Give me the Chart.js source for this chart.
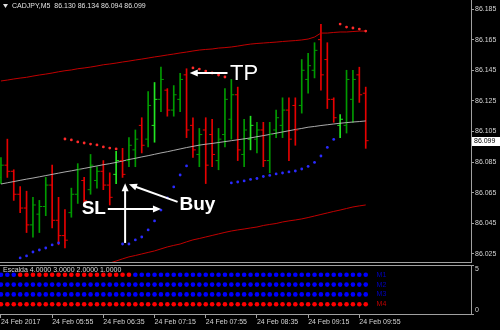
<!DOCTYPE html>
<html>
<head>
<meta charset="utf-8">
<script src="https://cdn.jsdelivr.net/npm/chart.js@4.4.0/dist/chart.umd.min.js"></script>
<style>
  html, body { margin: 0; padding: 0; background: #000; }
  #wrap { width: 500px; height: 330px; position: relative; overflow: hidden; background: #000; }
  #mainBox { position: absolute; left: 0; top: 0; width: 500px; height: 263px; }
  #indiBox { position: absolute; left: 0; top: 263px; width: 500px; height: 67px; }
</style>
</head>
<body>
<div id="wrap">
  <div id="mainBox"><canvas id="mainChart"></canvas></div>
  <div id="indiBox"><canvas id="indiChart"></canvas></div>
</div>
<script>
// CADJPY M5 bars, index 0 = 05:15
const symbol = 'CADJPY,M5';

const opens = [86.075, 86.083, 86.079, 86.064, 86.055, 86.044, 86.051, 86.056, 86.070, 86.047,
  86.037, 86.052, 86.064, 86.073, 86.067, 86.073, 86.079, 86.070, 86.077, 86.086,
  86.086, 86.093, 86.109, 86.100, 86.109, 86.126, 86.132, 86.119, 86.126, 86.142,
  86.109, 86.090, 86.106, 86.103, 86.086, 86.103, 86.113, 86.129, 86.090, 86.100,
  86.100, 86.106, 86.086, 86.106, 86.109, 86.119, 86.122, 86.122, 86.139, 86.145,
  86.165, 86.152, 86.126, 86.109, 86.109, 86.126, 86.142, 86.130];
const highs = [86.088, 86.100, 86.080, 86.069, 86.066, 86.062, 86.060, 86.075, 86.083, 86.062,
  86.054, 86.068, 86.084, 86.075, 86.090, 86.082, 86.086, 86.078, 86.092, 86.094,
  86.101, 86.106, 86.114, 86.131, 86.137, 86.147, 86.133, 86.135, 86.143, 86.146,
  86.114, 86.107, 86.114, 86.113, 86.107, 86.133, 86.139, 86.134, 86.113, 86.115,
  86.111, 86.111, 86.111, 86.119, 86.127, 86.127, 86.127, 86.152, 86.156, 86.163,
  86.175, 86.163, 86.127, 86.116, 86.145, 86.145, 86.147, 86.134];
const lows = [86.071, 86.075, 86.060, 86.052, 86.039, 86.036, 86.039, 86.050, 86.042, 86.031,
  86.029, 86.049, 86.058, 86.056, 86.064, 86.068, 86.067, 86.057, 86.071, 86.075,
  86.082, 86.082, 86.091, 86.095, 86.098, 86.118, 86.115, 86.115, 86.118, 86.101,
  86.088, 86.082, 86.071, 86.082, 86.080, 86.095, 86.100, 86.086, 86.082, 86.093,
  86.091, 86.082, 86.078, 86.101, 86.101, 86.086, 86.096, 86.117, 86.130, 86.140,
  86.132, 86.120, 86.111, 86.101, 86.104, 86.111, 86.124, 86.094];
const closes = [86.083, 86.079, 86.064, 86.055, 86.044, 86.057, 86.056, 86.070, 86.047, 86.037,
  86.034, 86.064, 86.080, 86.060, 86.083, 86.079, 86.070, 86.062, 86.086, 86.077,
  86.096, 86.100, 86.096, 86.122, 86.126, 86.139, 86.119, 86.129, 86.139, 86.106,
  86.093, 86.103, 86.083, 86.090, 86.100, 86.126, 86.129, 86.093, 86.106, 86.109,
  86.106, 86.086, 86.103, 86.114, 86.119, 86.100, 86.106, 86.145, 86.148, 86.158,
  86.142, 86.126, 86.114, 86.113, 86.139, 86.139, 86.129, 86.099];

// bars painted in the bright signal colour
const highlightBars = [18, 24, 39, 53];

// envelope + moving average
const upperBand = [86.1380, 86.1386, 86.1393, 86.1399, 86.1404, 86.1412, 86.1419, 86.1425, 86.1432, 86.1440,
  86.1447, 86.1452, 86.1460, 86.1465, 86.1471, 86.1478, 86.1486, 86.1491, 86.1497, 86.1504,
  86.1510, 86.1517, 86.1523, 86.1530, 86.1537, 86.1543, 86.1550, 86.1556, 86.1563, 86.1569,
  86.1576, 86.1582, 86.1586, 86.1589, 86.1595, 86.1598, 86.1602, 86.1608, 86.1615, 86.1621,
  86.1625, 86.1628, 86.1631, 86.1634, 86.1638, 86.1641, 86.1644, 86.1648, 86.1654, 86.1667,
  86.1693, 86.1693, 86.1697, 86.1700, 86.1700, 86.1703, 86.1706, 86.1706];
const lowerBand = [null, null, null, null, null, null, null, null, null, null,
  null, null, null, null, null, null, null, 86.0191, 86.0204, 86.0218,
  86.0231, 86.0240, 86.0250, 86.0260, 86.0270, 86.0283, 86.0296, 86.0306, 86.0315, 86.0329,
  86.0342, 86.0351, 86.0361, 86.0371, 86.0381, 86.0391, 86.0400, 86.0407, 86.0413, 86.0420,
  86.0426, 86.0436, 86.0443, 86.0449, 86.0459, 86.0466, 86.0472, 86.0479, 86.0488, 86.0498,
  86.0508, 86.0518, 86.0528, 86.0537, 86.0547, 86.0557, 86.0564, 86.0570];
const maLine = [86.0707, 86.0715, 86.0723, 86.0731, 86.0739, 86.0746, 86.0754, 86.0762, 86.0770, 86.0778,
  86.0786, 86.0793, 86.0801, 86.0809, 86.0817, 86.0825, 86.0833, 86.0840, 86.0848, 86.0857,
  86.0867, 86.0875, 86.0884, 86.0892, 86.0901, 86.0910, 86.0918, 86.0927, 86.0936, 86.0945,
  86.0953, 86.0961, 86.0967, 86.0972, 86.0978, 86.0984, 86.0990, 86.0996, 86.1002, 86.1008,
  86.1016, 86.1023, 86.1031, 86.1039, 86.1047, 86.1055, 86.1063, 86.1070, 86.1078, 86.1083,
  86.1089, 86.1094, 86.1099, 86.1104, 86.1108, 86.1112, 86.1115, 86.1119];

// parabolic SAR
const sarValues = [null, null, null, 86.0224, 86.0237, 86.0263, 86.0276, 86.0289, 86.0309, 86.0322,
  86.1001, 86.0995, 86.0982, 86.0975, 86.0968, 86.0962, 86.0949, 86.0942, 86.0936, 86.0315,
  86.0315, 86.0342, 86.0361, 86.0407, 86.0466, 86.0537, 86.0616, 86.0688, 86.0766, 86.0825,
  86.1465, 86.1458, 86.1445, 86.1432, 86.1419, 86.1406, 86.0714, 86.0720, 86.0727, 86.0737,
  86.0743, 86.0756, 86.0763, 86.0773, 86.0779, 86.0786, 86.0792, 86.0805, 86.0822, 86.0848,
  86.0890, 86.0946, 86.0998, 86.1752, 86.1732, 86.1726, 86.1719, 86.1706];

const priceTicks = [86.025, 86.045, 86.065, 86.085, 86.105, 86.125, 86.145, 86.165, 86.185];
const timeTickBars = [0, 8, 16, 24, 32, 40, 48, 56];
const timeLabels = ['24 Feb 2017', '24 Feb 05:55', '24 Feb 06:35', '24 Feb 07:15',
  '24 Feb 07:55', '24 Feb 08:35', '24 Feb 09:15', '24 Feb 09:55'];

// Escalda sub window: 1 = up (blue), -1 = down (red)
const escaldaNames = ['M1', 'M2', 'M3', 'M4'];
const escaldaLevels = [4, 3, 2, 1];
const escaldaM1 = [1, 1, 1, -1, -1, -1, -1, -1, -1, -1, -1, -1, -1, -1, -1, -1, -1, -1, -1, -1,
  -1, 1, 1, 1, 1, 1, 1, 1, 1, 1, 1, 1, 1, 1, 1, 1, 1, 1, 1, 1,
  1, 1, 1, 1, 1, 1, 1, 1, 1, 1, 1, 1, 1, 1, 1, 1, 1, 1];
const escaldaM2 = [1, 1, 1, 1, 1, 1, 1, 1, 1, 1, 1, 1, 1, 1, 1, 1, 1, 1, 1, 1,
  1, 1, 1, 1, 1, 1, 1, 1, 1, 1, 1, 1, 1, 1, 1, 1, 1, 1, 1, 1,
  1, 1, 1, 1, 1, 1, 1, 1, 1, 1, 1, 1, 1, 1, 1, 1, 1, 1];
const escaldaM3 = [1, 1, 1, 1, 1, 1, 1, 1, 1, 1, 1, 1, 1, 1, 1, 1, 1, 1, 1, 1,
  1, 1, 1, 1, 1, 1, 1, 1, 1, 1, 1, 1, 1, 1, 1, 1, 1, 1, 1, 1,
  1, 1, 1, 1, 1, 1, 1, 1, 1, 1, 1, 1, 1, 1, 1, 1, 1, 1];
const escaldaM4 = [-1, -1, -1, -1, -1, -1, -1, -1, -1, -1, -1, -1, -1, -1, -1, -1, -1, -1, -1, -1,
  -1, -1, -1, -1, -1, -1, -1, -1, -1, -1, -1, -1, -1, -1, -1, -1, -1, -1, -1, -1,
  -1, -1, -1, -1, -1, -1, -1, -1, -1, -1, -1, -1, -1, -1, -1, -1, -1, -1];

// visible bar range shared by both windows
const xMin = -0.15, xMax = 73.45;
const axisColor = '#a0a0a0';
const textColor = '#d4d4d4';
const smallFont = { family: 'Liberation Sans', size: 7 };

function barColor(i) {
  if (highlightBars.includes(i)) return '#22e622';
  return closes[i] >= opens[i] ? '#009a00' : '#e60000';
}

function arrow(ctx, x1, y1, x2, y2) {
  const a = Math.atan2(y2 - y1, x2 - x1);
  const hl = 8, hw = 3.5;
  ctx.beginPath();
  ctx.moveTo(x1, y1);
  ctx.lineTo(x2 - Math.cos(a) * hl * 0.7, y2 - Math.sin(a) * hl * 0.7);
  ctx.stroke();
  ctx.beginPath();
  ctx.moveTo(x2, y2);
  ctx.lineTo(x2 - hl * Math.cos(a) + hw * Math.sin(a), y2 - hl * Math.sin(a) - hw * Math.cos(a));
  ctx.lineTo(x2 - hl * Math.cos(a) - hw * Math.sin(a), y2 - hl * Math.sin(a) + hw * Math.cos(a));
  ctx.closePath();
  ctx.fill();
}

// frame, title, price box and the hand drawn TP / Buy / SL marks
const mainDecor = {
  id: 'mainDecor',
  afterDraw(chart) {
    const { ctx, chartArea: a, scales: { x, y } } = chart;
    const px = k => x.getPixelForValue(k);
    const py = v => y.getPixelForValue(v);
    const last = closes.length - 1;
    ctx.save();
    ctx.strokeStyle = axisColor;
    ctx.lineWidth = 1;
    ctx.beginPath();
    ctx.moveTo(a.left, a.bottom - 0.5);
    ctx.lineTo(a.right, a.bottom - 0.5);
    ctx.stroke();

    ctx.fillStyle = '#e0e0e0';
    ctx.beginPath();
    ctx.moveTo(3, 4); ctx.lineTo(8, 4); ctx.lineTo(5.5, 8);
    ctx.closePath();
    ctx.fill();
    ctx.font = '7px "Liberation Sans"';
    ctx.textBaseline = 'middle';
    ctx.textAlign = 'left';
    const ohlc = [opens[last], highs[last], lows[last], closes[last]].map(v => v.toFixed(3)).join(' ');
    ctx.fillText(symbol + '  ' + ohlc, 12, 6.5);

    const yc = Math.round(py(closes[last]));
    ctx.fillStyle = '#ffffff';
    ctx.fillRect(a.right + 1, yc - 4, 28, 9);
    ctx.fillStyle = '#000000';
    ctx.fillText(closes[last].toFixed(3), a.right + 3, yc + 0.5);

    ctx.strokeStyle = '#ffffff';
    ctx.fillStyle = '#ffffff';
    ctx.lineWidth = 2;
    // TP
    arrow(ctx, px(35.4), py(86.1432), px(29.5), py(86.1432));
    ctx.font = '22px "Liberation Sans"';
    ctx.fillText('TP', px(35.8), py(86.1428));
    // Buy
    arrow(ctx, px(27.6), py(86.0590), px(20.0), py(86.0705));
    ctx.font = 'bold 19px "Liberation Sans"';
    ctx.fillText('Buy', px(27.9), py(86.0570));
    // SL
    ctx.textAlign = 'right';
    ctx.fillText('SL', px(16.4), py(86.0544));
    arrow(ctx, px(16.7), py(86.0544), px(25.0), py(86.0544));
    arrow(ctx, px(19.4), py(86.0322), px(19.4), py(86.0712));
    ctx.restore();
  }
};

const indiDecor = {
  id: 'indiDecor',
  afterDraw(chart) {
    const { ctx, chartArea: a, scales: { x, y } } = chart;
    ctx.save();
    ctx.strokeStyle = axisColor;
    ctx.lineWidth = 1;
    ctx.beginPath();
    ctx.moveTo(a.left, a.top + 0.5);
    ctx.lineTo(a.right, a.top + 0.5);
    ctx.stroke();
    ctx.font = '7px "Liberation Sans"';
    ctx.textBaseline = 'middle';
    ctx.textAlign = 'left';
    ctx.fillStyle = textColor;
    ctx.fillText('Escalda ' + escaldaLevels.map(v => v.toFixed(4)).join(' '), 3, a.top + 5);
    ctx.fillText('5', a.right + 4, a.top + 4);
    ctx.fillText('0', a.right + 4, a.bottom - 4);
    escaldaNames.forEach((n, i) => {
      ctx.fillStyle = i < 3 ? '#0000c0' : '#c00000';
      ctx.fillText(n, x.getPixelForValue(58.7), y.getPixelForValue(escaldaLevels[i]));
    });
    ctx.restore();
  }
};

const pts = arr => arr.map((v, i) => ({ x: i, y: v }));

new Chart(document.getElementById('mainChart'), {
  type: 'bar',
  data: {
    datasets: [
      {
        type: 'line',
        data: sarValues.map((v, i) => ({ x: i, y: v })).filter(p => p.y !== null),
        showLine: false,
        pointRadius: 1.4,
        pointBorderWidth: 0,
        pointBackgroundColor: c => {
          const p = c.raw;
          return p && p.y > closes[p.x] ? '#ff2a2a' : '#2a2aff';
        }
      },
      {
        type: 'line',
        data: opens.map((v, i) => ({ x: i - 0.22, y: v })),
        showLine: false,
        pointStyle: 'line',
        pointRadius: 1.5,
        pointBorderWidth: 1,
        pointBorderColor: c => barColor(c.dataIndex)
      },
      {
        type: 'line',
        data: closes.map((v, i) => ({ x: i + 0.22, y: v })),
        showLine: false,
        pointStyle: 'line',
        pointRadius: 1.5,
        pointBorderWidth: 1,
        pointBorderColor: c => barColor(c.dataIndex)
      },
      {
        type: 'line',
        data: pts(maLine),
        borderColor: 'rgba(200,200,200,0.85)',
        borderWidth: 1,
        pointRadius: 0,
        tension: 0
      },
      {
        type: 'line',
        data: pts(upperBand),
        borderColor: '#c00000',
        borderWidth: 1,
        pointRadius: 0,
        tension: 0
      },
      {
        type: 'line',
        data: pts(lowerBand),
        borderColor: '#c00000',
        borderWidth: 1,
        pointRadius: 0,
        tension: 0
      },
      {
        type: 'bar',
        data: lows.map((l, i) => ({ x: i, y: [l, highs[i]] })),
        barThickness: 1,
        grouped: false,
        borderWidth: 0,
        backgroundColor: c => barColor(c.dataIndex)
      }
    ]
  },
  options: {
    responsive: true,
    maintainAspectRatio: false,
    devicePixelRatio: 1,
    animation: false,
    events: [],
    layout: { padding: 0, autoPadding: false },
    plugins: { legend: { display: false }, tooltip: { enabled: false } },
    scales: {
      x: { type: 'linear', min: xMin, max: xMax, bounds: 'data', offset: false, display: false },
      y: {
        position: 'right',
        min: 86.0191,
        max: 86.1909,
        bounds: 'data',
        afterBuildTicks: ax => { ax.ticks = priceTicks.map(v => ({ value: v })); },
        afterFit: ax => { ax.width = 29; ax.paddingTop = 0; ax.paddingBottom = 0; },
        ticks: { color: textColor, font: smallFont, padding: 1, callback: v => v.toFixed(3) },
        grid: { drawOnChartArea: false, tickLength: 3, color: axisColor },
        border: { color: axisColor }
      }
    }
  },
  plugins: [mainDecor]
});

const rows = [escaldaM1, escaldaM2, escaldaM3, escaldaM4];

new Chart(document.getElementById('indiChart'), {
  type: 'line',
  data: {
    datasets: rows.map((states, r) => ({
      data: states.map((s, i) => ({ x: i, y: escaldaLevels[r] })),
      showLine: false,
      pointRadius: 2.3,
      pointBorderWidth: 0,
      pointBackgroundColor: c => states[c.dataIndex] > 0 ? '#0000ff' : '#ff0000'
    }))
  },
  options: {
    responsive: true,
    maintainAspectRatio: false,
    devicePixelRatio: 1,
    animation: false,
    events: [],
    layout: { padding: { top: 2 }, autoPadding: false },
    plugins: { legend: { display: false }, tooltip: { enabled: false } },
    scales: {
      x: {
        type: 'linear', min: xMin, max: xMax, bounds: 'data', offset: false,
        afterBuildTicks: ax => { ax.ticks = timeTickBars.map(v => ({ value: v })); },
        afterFit: ax => { ax.height = 16; ax.paddingLeft = 0; ax.paddingRight = 0; },
        ticks: {
          color: textColor, font: smallFont, padding: 0, align: 'start',
          maxRotation: 0, minRotation: 0, autoSkip: false,
          callback: (v, i) => timeLabels[i]
        },
        grid: { drawOnChartArea: false, tickLength: 4, color: axisColor },
        border: { color: axisColor }
      },
      y: {
        position: 'right', min: 0, max: 5, bounds: 'data',
        afterBuildTicks: ax => { ax.ticks = [{ value: 0 }, { value: 5 }]; },
        afterFit: ax => { ax.width = 29; ax.paddingTop = 0; ax.paddingBottom = 0; },
        ticks: { display: false },
        grid: { drawOnChartArea: false, tickLength: 3, color: axisColor },
        border: { color: axisColor }
      }
    }
  },
  plugins: [indiDecor]
});
</script>
</body>
</html>
